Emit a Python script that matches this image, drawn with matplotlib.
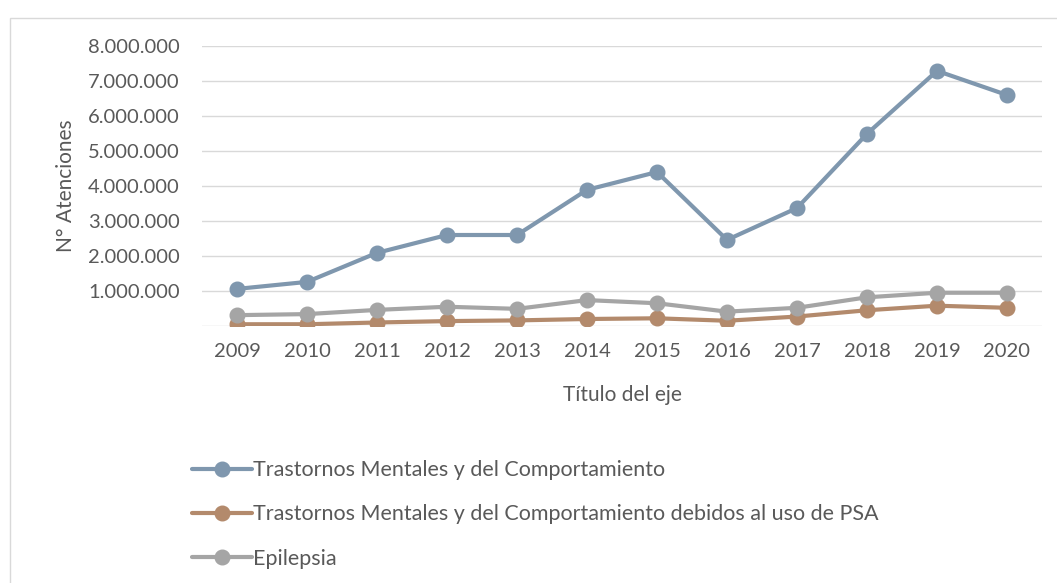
import matplotlib.pyplot as plt
from matplotlib.ticker import FuncFormatter
from matplotlib.patches import Rectangle

plt.rcParams['font.family'] = ['Lato', 'DejaVu Sans']

years = ['2009', '2010', '2011', '2012', '2013', '2014', '2015', '2016', '2017', '2018', '2019', '2020']
mentales = [1.06e6, 1.26e6, 2.09e6, 2.60e6, 2.60e6, 3.89e6, 4.40e6, 2.46e6, 3.37e6, 5.49e6, 7.29e6, 6.60e6]
psa = [0.05e6, 0.05e6, 0.10e6, 0.14e6, 0.16e6, 0.20e6, 0.22e6, 0.15e6, 0.27e6, 0.45e6, 0.58e6, 0.52e6]
epilepsia = [0.31e6, 0.34e6, 0.46e6, 0.55e6, 0.49e6, 0.74e6, 0.65e6, 0.41e6, 0.52e6, 0.82e6, 0.95e6, 0.95e6]

labels = ['Trastornos Mentales y del Comportamiento',
          'Trastornos Mentales y del Comportamiento debidos al uso de PSA',
          'Epilepsia']
colors = ['#7F97AE', '#B38A6C', '#A5A5A5']
txt = '#595959'

fig = plt.figure(figsize=(10.57, 5.83), dpi=100)
# outer chart frame
fig.patches.append(Rectangle((10 / 1057, -0.1), 1.2, 1 - 18 / 583 + 0.1, transform=fig.transFigure,
                             fill=False, edgecolor='#D9D9D9', linewidth=1))
ax = fig.add_axes([202 / 1057, 1 - 326 / 583, 840 / 1057, 280 / 583])

x = range(len(years))
for s, lab, c in zip([mentales, psa, epilepsia], labels, colors):
    ax.plot(x, s, color=c, lw=3, marker='o', markersize=10.5, label=lab, solid_capstyle='round')

ax.set_xlim(-0.5, len(years) - 0.5)
ax.set_ylim(0, 8e6)
ax.set_yticks([i * 1e6 for i in range(9)])
ax.yaxis.set_major_formatter(FuncFormatter(lambda v, p: '' if v == 0 else f'{int(v):,}'.replace(',', '.')))
ax.set_xticks(list(x))
ax.set_xticklabels(years)
ax.grid(axis='y', color='#D9D9D9', lw=1)
ax.set_axisbelow(True)
for sp in ax.spines.values():
    sp.set_visible(False)
ax.tick_params(axis='both', length=0, labelsize=14.5, colors=txt)
ax.tick_params(axis='y', pad=16)
ax.tick_params(axis='x', pad=12)

ax.set_xlabel('Título del eje', fontsize=15, color=txt, labelpad=18)
ax.set_ylabel('N° Atenciones', fontsize=15, color=txt, labelpad=9)

fig.legend(loc='upper left', bbox_to_anchor=(173 / 1057, 1 - 441 / 583), frameon=False,
           fontsize=15.5, labelcolor=txt, handlelength=2.75, handletextpad=0.05, labelspacing=1.12)

fig.savefig('out.png', dpi=100)
